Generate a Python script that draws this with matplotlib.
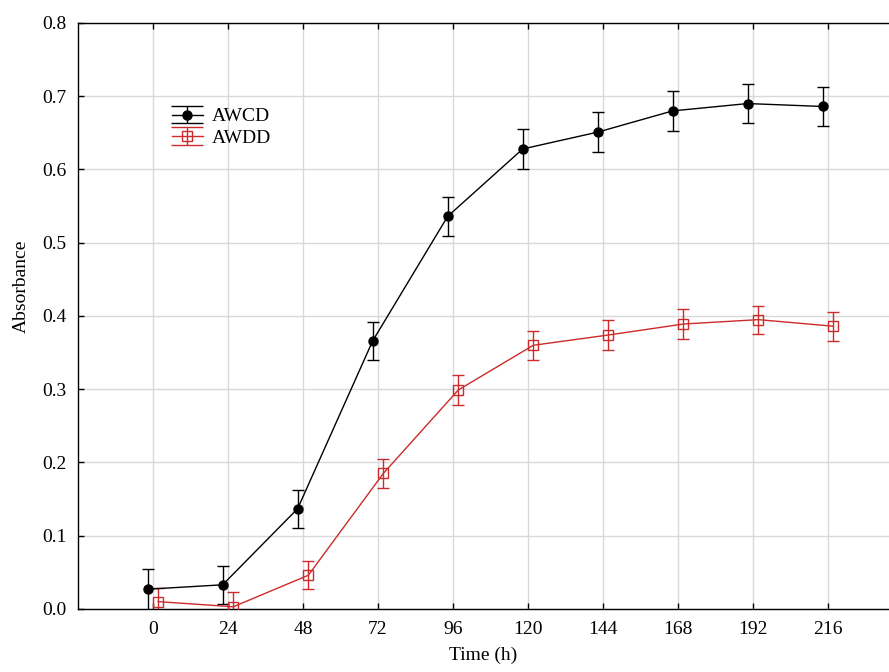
import matplotlib
matplotlib.use("Agg")
import matplotlib.pyplot as plt
import numpy as np
from matplotlib.lines import Line2D
from matplotlib.legend_handler import HandlerErrorbar

# sampling times (h)
time_h = [0, 24, 48, 72, 96, 120, 144, 168, 192, 216]

awcd = [0.027, 0.033, 0.137, 0.366, 0.536, 0.628, 0.651, 0.680, 0.690, 0.686]
awcd_err = [0.028, 0.026, 0.026, 0.026, 0.027, 0.027, 0.027, 0.027, 0.027, 0.027]

awdd = [0.010, 0.003, 0.046, 0.185, 0.299, 0.360, 0.374, 0.389, 0.395, 0.386]
awdd_err = [0.019, 0.020, 0.019, 0.020, 0.020, 0.020, 0.020, 0.020, 0.019, 0.020]

y_ticks = [0.0, 0.1, 0.2, 0.3, 0.4, 0.5, 0.6, 0.7, 0.8]

RED = "#cc2b2b"


class WideCapHandler(HandlerErrorbar):
    """Legend errorbar whose caps span the whole handle width."""

    def create_artists(self, legend, orig_handle, xdescent, ydescent,
                       width, height, fontsize, trans):
        arts = super().create_artists(legend, orig_handle, xdescent,
                                      ydescent, width, height, fontsize,
                                      trans)
        for a in arts:
            if isinstance(a, Line2D) and a.get_marker() == "_":
                a.set_markersize(width)
        return arts


plt.rcParams["font.family"] = ["Liberation Serif", "DejaVu Serif"]

fig = plt.figure(figsize=(8.89, 6.72), dpi=100)
ax = fig.add_axes([0.0877, 0.0938, 0.9123, 0.872])

t = np.array(time_h, dtype=float)
dodge = 1.7

ax.errorbar(t - dodge, awcd, yerr=awcd_err, color="black", lw=1.0,
            marker="o", ms=6.5, mfc="black", mec="black",
            ecolor="black", elinewidth=1.0, capsize=4, capthick=1.0,
            label="AWCD", zorder=3)
ax.errorbar(t + dodge, awdd, yerr=awdd_err, color=RED, lw=1.0,
            marker="s", ms=7, mfc="none", mec=RED, mew=1.0,
            ecolor=RED, elinewidth=1.0, capsize=4, capthick=1.0,
            label="AWDD", zorder=3)

ax.set_xlim(-24, 235.5)
ax.set_ylim(0, 0.8)
ax.set_xticks(time_h)
ax.set_yticks(y_ticks)
ax.set_yticklabels([f"{v:.1f}" for v in y_ticks])
ax.grid(True, color="#d9d9d9", lw=1.0, zorder=0)
ax.set_axisbelow(True)

ax.spines["right"].set_visible(False)
for s in ("left", "bottom", "top"):
    ax.spines[s].set_linewidth(1.0)
ax.tick_params(axis="both", direction="in", length=4, width=1.0,
               labelsize=14)
ax.tick_params(axis="x", top=True, pad=9)
ax.tick_params(axis="y", pad=8)

ax.set_xlabel("Time (h)", fontsize=14, labelpad=6)
ax.set_ylabel("Absorbance", fontsize=14)
ax.yaxis.set_label_coords(-0.059, 0.55)

ax.legend(loc="upper left", bbox_to_anchor=(0.111, 0.862), frameon=False,
          fontsize=14, handlelength=1.6, handletextpad=0.45,
          labelspacing=0.2, borderpad=0.2, borderaxespad=0,
          handler_map={type(ax.containers[0]): WideCapHandler(yerr_size=0.45)})

fig.savefig("out.png", dpi=100)
